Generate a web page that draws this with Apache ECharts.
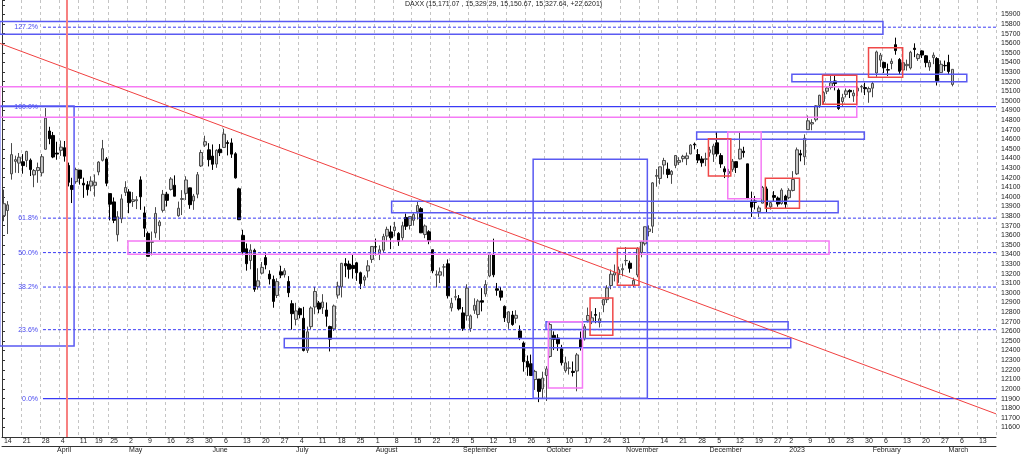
<!DOCTYPE html>
<html>
<head>
<meta charset="utf-8">
<script src="https://cdn.jsdelivr.net/npm/echarts@6/dist/echarts.min.js"></script>
<style>
  html, body { margin: 0; padding: 0; background: #fff; }
  #chart { width: 1024px; height: 454px; }
</style>
</head>
<body>
<div id="chart"></div>
<script>
// DAXX daily candles, 14.03.2022 - 02.03.2023
var opens = [
  // Mar 2022
  13805,13858,14240,14370,14352,14366,14380,14382,14229,14274,14251,14496,14686,14640,
  // Apr
  14456,14485,14512,14327,14119,14158,14279,14142,14126,14113,14120,14260,14381,14395,14034,13948,13606,13772,14046,
  // May
  14052,13952,13960,14177,13833,13620,13527,13625,13700,13860,14028,14078,14121,13804,13974,14037,14094,13958,14028,14322,14539,14490,
  // Jun
  14425,14342,14496,14515,14566,14562,14449,14084,13599,13460,13338,13443,13066,13206,13368,13196,13141,12974,13220,13190,13120,12888,
  // Jul
  12725,12836,12736,12402,12649,12854,12896,12847,12822,12650,12626,12978,13064,13306,13301,13287,13314,13210,13134,13229,13349,
  // Aug
  13481,13400,13445,13592,13635,13650,13620,13575,13786,13702,13756,13845,13877,13608,13637,13450,13185,13185,13270,13303,12845,12956,12940,
  // Sep
  12792,12763,12630,12820,12775,12919,12990,13177,13400,13043,13021,12860,12691,12770,12736,12604,12479,12288,12262,12098,12103,12001,
  // Oct
  12140,12338,12558,12530,12419,12191,12216,12184,12187,12514,12521,12716,12702,12775,12691,12875,12930,13077,13187,13190,13241,
  // Nov
  13336,13310,13079,13187,13421,13512,13641,13695,14214,14192,14332,14288,14232,14328,14360,14398,14398,14447,14549,14441,14395,14391,
  // Dec
  14459,14444,14563,14430,14292,14245,14286,14367,14395,14476,14344,13955,13958,13846,13935,14083,13896,14014,13988,13931,14008,
  // Jan 2023
  13992,14067,14240,14450,14418,14700,14759,14803,14953,14994,15100,15140,15207,15112,14993,15067,15109,15052,15102,15144,15138,15093,
  // Feb
  15132,15290,15424,15400,15325,15389,15585,15430,15321,15366,15342,15548,15440,15520,15469,15353,15450,15440,15294,15369,
  // Mar
  15400,15171
];
var highs = [
  14076,13956,14560,14429,14457,14445,14480,14400,14290,14357,14446,14925,14730,14676,
  14574,14587,14582,14357,14199,14304,14279,14200,14164,14214,14234,14372,14593,14414,14034,13994,13851,14027,14163,
  14081,14050,14008,14214,13900,13640,13639,13893,13758,14072,14053,14206,14224,13951,14070,14215,14096,14031,14259,14490,14637,14559,
  14546,14495,14550,14710,14589,14609,14465,14097,13658,13516,13507,13461,13257,13322,13422,13236,13181,13153,13283,13258,13175,12924,
  12897,12848,12855,12650,12860,13063,12916,12987,12901,12659,12879,13117,13313,13362,13337,13402,13324,13222,13185,13341,13486,
  13566,13495,13616,13690,13700,13740,13633,13741,13827,13800,13836,13947,13893,13713,13653,13450,13235,13265,13301,13349,12948,13038,12978,
  12853,13090,12775,12944,12934,13050,13133,13409,13565,13104,13062,12870,12808,12813,12820,12662,12495,12349,12358,12199,12104,12180,
  12237,12693,12600,12570,12460,12337,12289,12286,12375,12598,12676,12848,12809,12842,12800,12935,13080,13244,13296,13274,13306,
  13478,13336,13159,13476,13537,13688,13703,14154,14289,14313,14407,14357,14279,14436,14413,14438,14462,14549,14566,14498,14424,14460,
  14521,14553,14675,14455,14319,14292,14395,14367,14675,14522,14345,14055,14010,13909,14114,14107,13957,14060,14004,14090,14023,
  14090,14268,14514,14490,14651,14847,14808,14954,15063,15101,15149,15270,15269,15130,15073,15129,15120,15114,15150,15166,15190,15147,
  15200,15523,15499,15408,15388,15441,15658,15445,15400,15429,15521,15599,15496,15527,15477,15425,15504,15455,15420,15419,
  15480,15329
];
var lows = [
  13747,13614,14180,14251,14248,14242,14310,14217,14101,14147,14214,14491,14548,14403,
  14387,14427,14367,14109,13936,14137,14128,13990,14014,14059,14003,14225,14369,14111,13755,13727,13536,13727,14010,
  13830,13896,13873,13865,13583,13381,13391,13574,13552,13837,13900,14066,14006,13793,13811,13968,13876,13865,13986,14312,14520,14317,
  14281,14303,14425,14515,14432,14406,14190,13759,13393,13232,13246,13012,13034,13192,13246,13088,12846,12947,13154,13160,12956,12618,
  12662,12735,12391,12375,12624,12778,12788,12781,12649,12391,12604,12941,12953,13164,13149,13149,13126,13040,13072,13160,13313,
  13391,13342,13416,13536,13456,13589,13490,13543,13656,13660,13701,13764,13623,13570,13507,13205,13057,13103,13171,12942,12807,12923,12818,
  12605,12712,12596,12782,12736,12808,12960,13163,13164,12971,12920,12698,12626,12658,12684,12509,12181,12137,12145,11990,11863,11905,
  11875,12326,12405,12397,12245,12170,12150,12130,11976,12400,12504,12693,12676,12685,12640,12799,12896,13038,13120,13105,13174,
  13286,13211,13060,13163,13371,13493,13589,13624,14106,14131,14233,14195,14136,14299,14333,14361,14331,14444,14495,14352,14314,14320,
  14418,14364,14420,14302,14196,14199,14262,14249,14390,14410,13976,13791,13870,13791,13934,13841,13868,13953,13898,13919,13879,
  13976,14057,14228,14370,14331,14700,14694,14783,14927,14962,15070,15118,15109,14906,14948,15036,15029,14989,15049,15087,15060,14980,
  15037,15250,15352,15290,15260,15329,15480,15270,15298,15315,15327,15455,15416,15446,15349,15313,15382,15160,15293,15313,
  15280,15151
];
var closes = [
  13929,13917,14440,14388,14413,14326,14473,14284,14274,14306,14418,14820,14606,14415,
  14446,14518,14424,14152,14078,14284,14193,14124,14076,14164,14153,14362,14502,14142,13924,13756,13793,13979,14098,
  13939,13970,13971,14001,13674,13381,13535,13828,13739,14027,13964,14186,14007,13882,13982,14176,13919,14008,14231,14462,14575,14388,
  14340,14485,14460,14653,14556,14445,14198,13762,13427,13304,13447,13038,13126,13266,13292,13145,12912,13118,13186,13231,13003,12784,
  12813,12773,12401,12595,12843,13015,12832,12905,12757,12519,12864,13071,13308,13282,13247,13254,13210,13097,13166,13282,13484,
  13480,13449,13587,13662,13574,13687,13535,13700,13694,13795,13816,13910,13626,13697,13544,13230,13194,13220,13271,12971,12893,12961,12834,
  12631,13050,12761,12871,12916,12904,13088,13402,13189,13028,12956,12741,12803,12671,12767,12531,12284,12228,12140,12183,11975,12114,
  12209,12671,12517,12471,12273,12272,12219,12172,12355,12437,12649,12765,12741,12767,12731,12931,13052,13195,13211,13243,13253,
  13338,13256,13130,13460,13533,13689,13666,14146,14224,14313,14379,14234,14266,14431,14380,14422,14427,14539,14541,14383,14355,14397,
  14490,14529,14448,14343,14261,14264,14371,14306,14497,14461,13987,13893,13943,13885,14098,13914,13940,13995,13925,14071,13924,
  14069,14181,14490,14436,14610,14792,14774,14948,15058,15086,15134,15187,15181,14920,15033,15103,15094,15081,15132,15150,15126,15128,
  15180,15509,15476,15345,15320,15412,15523,15308,15397,15380,15506,15534,15482,15477,15398,15400,15475,15210,15381,15365,
  15305,15328
];

// Xetra holidays inside the range
var holidays = ['2022-04-15', '2022-04-18', '2022-12-26'];
var monthNames = ['', 'February', 'March', 'April', 'May', 'June', 'July',
                  'August', 'September', 'October', 'November', 'December'];

// Fibonacci retracement 0% / 100%
var fibLow = 11900, fibHigh = 14940;
var fibRatios = [0, 0.236, 0.382, 0.5, 0.618, 1, 1.272];
var fibLabels = ['0.0%', '23.6%', '38.2%', '50.0%', '61.8%', '100.0%', '127.2%'];

// drawn boxes: [from bar, to bar, top price, bottom price]
var blueBoxes = [
  [-0.6, 232.2, 15826, 15693],
  [208.2, 254.3, 15276, 15199],
  [183.1, 227.3, 14676, 14600],
  [102.7, 220.4, 13955, 13835],
  [140.0, 170.1, 14391, 11903],
  [74.4, 207.9, 12525, 12430],
  [143.4, 207.2, 12700, 12619],
  [-0.6, 19.0, 14946, 12447]
];
var magentaBoxes = [
  [-0.6, 225.3, 15147, 14829],
  [33.2, 218.0, 13541, 13402],
  [144.0, 153.0, 12700, 12010],
  [191.3, 200.1, 14676, 13981]
];
var redBoxes = [
  [155.0, 161.0, 12947, 12559],
  [162.2, 167.9, 13465, 13079],
  [186.2, 192.1, 14606, 14217],
  [201.2, 210.2, 14193, 13881],
  [216.3, 225.3, 15266, 14964],
  [228.4, 237.4, 15553, 15245]
];
var trendLine = [[-0.6, 15599], [262, 11741]];
var redMarker = 17.13;

/*
 * trading days (categories)
 */
var days = [];
var t = Date.UTC(2022, 2, 14), tEnd = Date.UTC(2023, 2, 17);
while (t <= tEnd) {
  var dt = new Date(t);
  var s = dt.toISOString().slice(0, 10);
  var wd = dt.getUTCDay();
  if (wd !== 0 && wd !== 6 && holidays.indexOf(s) < 0) days.push(s);
  t += 86400000;
}
var nBars = days.length;

var weekStart = [], monthStart = [];
for (var i = 0; i < nBars; i++) {
  var cur = new Date(days[i] + 'T00:00:00Z');
  if (i === 0) { weekStart.push(true); monthStart.push(false); continue; }
  var prev = new Date(days[i - 1] + 'T00:00:00Z');
  weekStart.push(cur.getUTCDay() <= prev.getUTCDay());
  monthStart.push(cur.getUTCMonth() !== prev.getUTCMonth());
}

var candles = [];
for (var k = 0; k < closes.length; k++) {
  candles.push([opens[k], closes[k], lows[k], highs[k]]);
}

var boxData = [];
blueBoxes.forEach(function (b) { boxData.push(b.concat([0])); });
magentaBoxes.forEach(function (b) { boxData.push(b.concat([1])); });
redBoxes.forEach(function (b) { boxData.push(b.concat([2])); });
var boxColors = ['#5a5af2', '#f57af5', '#f04848'];

var fibData = [];
for (var f = 0; f < fibRatios.length; f++) {
  fibData.push([fibLow + fibRatios[f] * (fibHigh - fibLow), f]);
}

var chart = echarts.init(document.getElementById('chart'));
var font = 'Liberation Sans, Arial, sans-serif';

var option = {
  animation: false,
  textStyle: { fontFamily: font },
  title: {
    text: 'DAXX (15,171.07 , 15,329.29, 15,150.67, 15,327.64, +22.6201)',
    left: 405, top: 1, padding: 0,
    textStyle: { fontSize: 7, fontWeight: 'normal', color: '#222', fontFamily: font }
  },
  grid: { left: 2, right: 28, top: 0, bottom: 17 },
  xAxis: [
    {
      type: 'category', data: days, boundaryGap: true,
      axisLine: { lineStyle: { color: '#333' } },
      axisTick: { interval: function (i) { return weekStart[i]; }, length: 9, lineStyle: { color: '#333' } },
      axisLabel: {
        interval: function (i) { return weekStart[i]; },
        formatter: function (v) { return String(+v.slice(8, 10)); },
        align: 'left', margin: 1, fontSize: 7, color: '#222'
      },
      splitLine: {
        show: true, interval: function (i) { return weekStart[i]; },
        lineStyle: { color: '#c4c4c4', type: [3, 3], width: 1 }
      }
    },
    {
      type: 'category', data: days, boundaryGap: true, position: 'bottom', offset: 9,
      axisLine: { lineStyle: { color: '#333' } },
      axisTick: { interval: function (i) { return monthStart[i]; }, length: 8, lineStyle: { color: '#333' } },
      axisLabel: {
        interval: function (i) { return monthStart[i]; },
        formatter: function (v) {
          var m = +v.slice(5, 7) - 1;
          return m === 0 ? v.slice(0, 4) : monthNames[m];
        },
        align: 'left', margin: 1, fontSize: 7, color: '#222'
      },
      splitLine: { show: false }
    },
    { type: 'value', min: 0, max: nBars, show: false }
  ],
  yAxis: {
    type: 'value', position: 'right', min: 11500, max: 16050, interval: 100,
    axisLine: { show: true, lineStyle: { color: '#333' } },
    axisTick: { show: true, length: 3, lineStyle: { color: '#333' } },
    axisLabel: {
      fontSize: 7, color: '#222', margin: 5,
      formatter: function (v) { return (v >= 11600 && v <= 15900) ? String(v) : ''; }
    },
    splitLine: { show: false }
  },
  series: [
    {
      type: 'candlestick', xAxisIndex: 0, data: candles, barWidth: 3, z: 2,
      itemStyle: { color: '#c4c4c4', color0: '#000', borderColor: '#4a4a4a', borderColor0: '#000', borderWidth: 1 }
    },
    {
      // fib levels
      type: 'custom', xAxisIndex: 2, yAxisIndex: 0, z: 3, silent: true,
      data: fibData,
      encode: { y: 0 },
      renderItem: function (params, api) {
        var lvl = api.value(0), idx = api.value(1);
        var solid = (idx === 0 || idx === 5);
        var from = idx === 5 ? -0.6 : 10.8;
        var a = api.coord([from, lvl]), b = api.coord([nBars, lvl]);
        var lab = api.coord([9.5, lvl]);
        return {
          type: 'group',
          children: [
            {
              type: 'line', shape: { x1: a[0], y1: a[1], x2: b[0], y2: b[1] },
              style: { stroke: '#3a3af5', lineWidth: solid ? 1.4 : 1, lineDash: solid ? null : [3, 2] }
            },
            {
              type: 'text',
              style: { text: fibLabels[idx], x: lab[0], y: lab[1], align: 'right', verticalAlign: 'middle',
                       fill: '#4848f0', fontSize: 7, fontFamily: font }
            }
          ]
        };
      }
    },
    {
      // boxes
      type: 'custom', xAxisIndex: 2, yAxisIndex: 0, z: 4, silent: true,
      data: boxData,
      encode: { x: [0, 1], y: [2, 3] },
      renderItem: function (params, api) {
        var p0 = api.coord([api.value(0), api.value(2)]);
        var p1 = api.coord([api.value(1), api.value(3)]);
        return {
          type: 'rect',
          shape: { x: p0[0], y: p0[1], width: p1[0] - p0[0], height: p1[1] - p0[1] },
          style: { fill: null, stroke: boxColors[api.value(4)], lineWidth: 1.5 }
        };
      }
    },
    {
      // red trend line and vertical marker
      type: 'custom', xAxisIndex: 2, yAxisIndex: 0, z: 5, silent: true,
      data: [[0]],
      renderItem: function (params, api) {
        var a = api.coord(trendLine[0]), b = api.coord(trendLine[1]);
        var top = api.coord([redMarker, 16050]), bot = api.coord([redMarker, 11500]);
        return {
          type: 'group',
          children: [
            { type: 'line', shape: { x1: a[0], y1: a[1], x2: b[0], y2: b[1] },
              style: { stroke: '#f04040', lineWidth: 1 } },
            { type: 'line', shape: { x1: top[0], y1: top[1], x2: bot[0], y2: bot[1] },
              style: { stroke: '#f78080', lineWidth: 2 } }
          ]
        };
      }
    }
  ]
};
chart.setOption(option);

window.onresize = function () {
  chart.resize();
};
</script>
</body>
</html>
